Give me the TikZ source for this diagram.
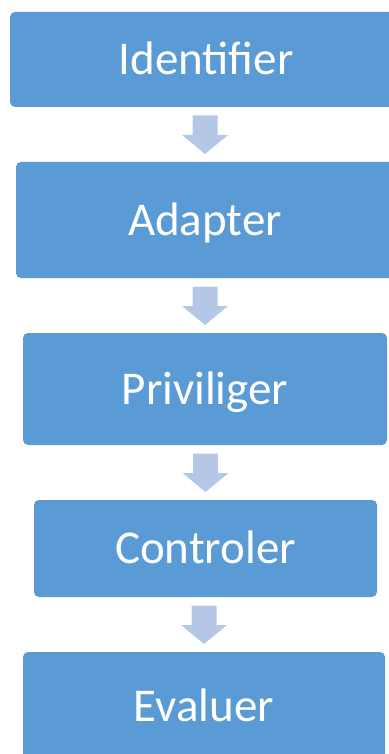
\documentclass[tikz,border=0pt]{standalone}
\usepackage{fontspec}
\setsansfont{Carlito}
\usetikzlibrary{calc}
\definecolor{boxblue}{RGB}{91,155,213}
\definecolor{arrowblue}{RGB}{180,199,231}
\tikzset{stage/.style={fill=boxblue, rounded corners=5pt, text=white, inner sep=0pt, outer sep=0pt,
    font=\sffamily\fontsize{47}{56}\selectfont, text height=30pt, text depth=0pt}}
% block arrow from the bottom of #1 to the top of #2
\newcommand{\blockarrow}[2]{%
  \coordinate (tip) at ($(#2.north)+(0,8pt)$);
  \coordinate (top) at (tip |- #1.south);
  \fill[arrowblue] ($(top)+(-12.5pt,-8.5pt)$) -- ($(tip)+(-12.5pt,19pt)$) -- ($(tip)+(-23pt,19pt)$)
    -- (tip) -- ($(tip)+(23pt,19pt)$) -- ($(tip)+(12.5pt,19pt)$) -- ($(top)+(12.5pt,-8.5pt)$) -- cycle;}

\begin{document}
\begin{tikzpicture}
			\useasboundingbox (0,0) rectangle (388pt,-754pt);
			\node[stage, minimum width=392pt, minimum height=95pt] (ident) at (206pt,-59.5pt) {Identifier};
			\node[stage, minimum width=378pt, minimum height=116pt] (adapt) at (205pt,-220pt) {Adapter};
			\node[stage, minimum width=364pt, minimum height=112pt] (privil) at (205pt,-389pt) {Priviliger};
			\node[stage, minimum width=343pt, minimum height=97pt] (control) at (205.5pt,-548.5pt) {Controler};
			\node[stage, minimum width=362pt, minimum height=109pt] (evalu) at (204pt,-706.5pt) {Evaluer};
			
			\blockarrow{ident}{adapt}
			\blockarrow{adapt}{privil}
			\blockarrow{privil}{control}
			\blockarrow{control}{evalu}
			
		\end{tikzpicture}
\end{document}
